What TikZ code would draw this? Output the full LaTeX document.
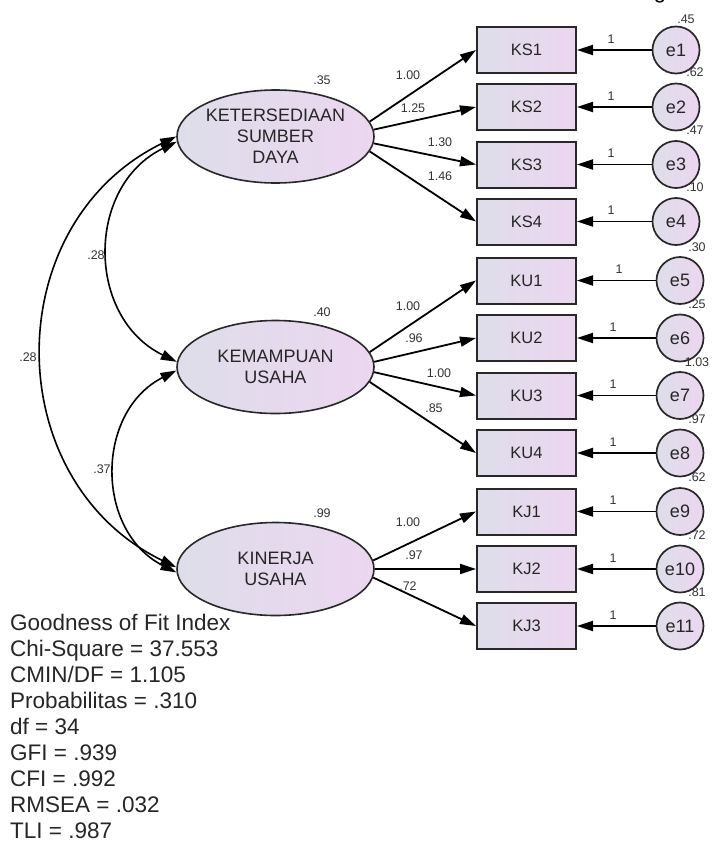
\documentclass[tikz,border=0pt]{standalone}
\usepackage{fontspec}
\setmainfont{Liberation Sans}
\usetikzlibrary{arrows.meta,shapes.geometric}

\definecolor{fillL}{RGB}{222,222,234}
\definecolor{fillR}{RGB}{236,214,240}
\definecolor{edgec}{RGB}{40,40,40}

\tikzset{
  lat/.style={ellipse, draw=edgec, line width=1.6bp, left color=fillL, right color=fillR,
    minimum width=197bp, minimum height=93bp, inner sep=0pt, align=center,
    font=\fontsize{18bp}{21bp}\selectfont, text=black!85},
  obs/.style={rectangle, draw=edgec, line width=2bp, left color=fillL, right color=fillR,
    minimum width=99bp, minimum height=46bp, inner sep=0pt,
    font=\fontsize{16.5bp}{19bp}\selectfont, text=black!85},
  err/.style={circle, draw=edgec, line width=1.7bp, left color=fillL, right color=fillR,
    minimum size=47bp, inner sep=0pt, font=\fontsize{18bp}{20bp}\selectfont, text=black!85},
  lbl/.style={font=\fontsize{12.5bp}{15bp}\selectfont, inner sep=0pt, text=black!80},
  ldg/.style={line width=1.8bp, draw=black, -{Triangle[length=16bp,width=10bp]}},
  cov/.style={line width=1.6bp, draw=black,
    {Triangle[length=16bp,width=10bp]}-{Triangle[length=16bp,width=10bp]}},
  gof/.style={font=\fontsize{22.5bp}{26bp}\selectfont, anchor=base west, inner sep=0pt, text=black!85},
}

\begin{document}
\begin{tikzpicture}[x=1bp,y=1bp]
\useasboundingbox (0,0) rectangle (713,-842);
\fill[white] (0,0) rectangle (713,-842);

% fragment of text cut at the top edge
\node[font=\fontsize{22bp}{22bp}\selectfont, anchor=base, inner sep=0pt] (gfrag) at (660,1) {g};

% latent variables
\node[lat] (E1) at (275.5,-136.5) {KETERSEDIAAN\\SUMBER\\DAYA};
\node[lat] (E2) at (275.5,-367) {KEMAMPUAN\\USAHA};
\node[lat] (E3) at (275.5,-569) {KINERJA\\USAHA};

% observed variables
\foreach \n/\y in {KS1/50,KS2/107,KS3/164.5,KS4/221.5,KU1/280.5,KU2/338,KU3/395.5,KU4/453,KJ1/511.5,KJ2/569,KJ3/626}
  \node[obs] (\n) at (526.5,-\y) {\n};

% error terms
\foreach \e/\x/\y in {e1/676/50,e2/676/107,e3/676/164.5,e4/676/221.5,e5/680/280.5,e6/680/338,e7/680/395.5,e8/680/453,e9/680/511.5,e10/680/569,e11/680/626}
  \node[err] (\e) at (\x,-\y) {\e};

% loadings
\draw[ldg] (E1.9) -- (KS1.west);
\draw[ldg] (E1.4) -- (KS2.west);
\draw[ldg] (E1.-4) -- (KS3.west);
\draw[ldg] (E1.-9) -- (KS4.west);
\draw[ldg] (E2.9) -- (KU1.west);
\draw[ldg] (E2.3) -- (KU2.west);
\draw[ldg] (E2.-3) -- (KU3.west);
\draw[ldg] (E2.-9) -- (KU4.west);
\draw[ldg] (E3.5) -- (KJ1.west);
\draw[ldg] (E3.0) -- (KJ2.west);
\draw[ldg] (E3.-5) -- (KJ3.west);

% error paths
\foreach \e/\n in {e1/KS1,e2/KS2,e3/KS3,e4/KS4,e5/KU1,e6/KU2,e7/KU3,e8/KU4,e9/KJ1,e10/KJ2,e11/KJ3}
  \draw[ldg] (\e) -- (\n.east);

% covariances
\draw[cov] (E1.180) to[out=206,in=154,looseness=1.18] (E3.179);
\draw[cov] (E1.183) to[out=206,in=154,looseness=1.18] (E2.177);
\draw[cov] (E2.182) to[out=207,in=153,looseness=1.16] (E3.182);

% latent variances
\node[lbl] (v1) at (322,-80) {.35};
\node[lbl] (v2) at (322,-312) {.40};
\node[lbl] (v3) at (322,-513) {.99};

% loading labels
\node[lbl] (l1) at (408,-75) {1.00};
\node[lbl] (l2) at (413,-108) {1.25};
\node[lbl] (l3) at (440,-142) {1.30};
\node[lbl] (l4) at (440,-176) {1.46};
\node[lbl] (l5) at (408,-306) {1.00};
\node[lbl] (l6) at (414,-338) {.96};
\node[lbl] (l7) at (439,-373) {1.00};
\node[lbl] (l8) at (434,-408) {.85};
\node[lbl] (l9) at (408,-522) {1.00};
\node[lbl] (l10) at (414,-555) {.97};
\node[lbl] (l11) at (408,-586) {.72};

% covariance labels
\node[lbl] (c1) at (96,-255) {.28};
\node[lbl] (c2) at (28,-357) {.28};
\node[lbl] (c3) at (102,-469) {.37};

% error path labels
\foreach \i/\x/\y in {1/611/39,2/611/96,3/611/153.5,4/611/210.5,5/619/269,6/613/327,7/613/384.5,8/613/442,9/613/500.5,10/613/558,11/613/615}
  \node[lbl] (one\i) at (\x,-\y) {1};

% error variances
\foreach \i/\v/\x/\y in {1/.45/686/19,2/.62/695/72.5,3/.47/695/130,4/.10/695/187,5/.30/697/247,6/.25/697/304.5,7/1.03/697/362,8/.97/697/419.5,9/.62/697/477.5,10/.72/697/535.5,11/.81/697/592.5}
  \node[lbl] (var\i) at (\x,-\y) {\v};

% goodness of fit
\foreach \t [count=\k from 0] in {Goodness of Fit Index,Chi-Square = 37.553,CMIN/DF = 1.105,Probabilitas = .310,df = 34,GFI = .939,CFI = .992,RMSEA = .032,TLI = .987}
  \node[gof] (gof\k) at (10,{-630-26.1*\k}) {\t};
\end{tikzpicture}
\end{document}
